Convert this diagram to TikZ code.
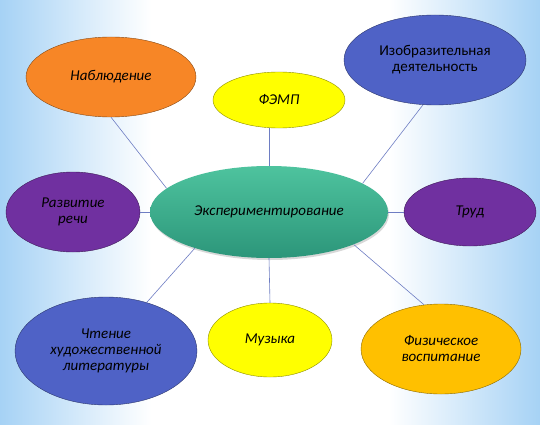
\documentclass[tikz,border=0pt]{standalone}
\usepackage{fontspec}
\setmainfont{Carlito}
\usepackage{tikz}
\usetikzlibrary{shapes.geometric, shadows}

\definecolor{bgblue}{RGB}{166,210,245}
\definecolor{linkblue}{RGB}{110,125,195}
\definecolor{obsorange}{RGB}{247,134,38}
\definecolor{lemon}{RGB}{255,255,0}
\definecolor{ink}{RGB}{79,98,198}
\definecolor{plum}{RGB}{112,48,160}
\definecolor{gold}{RGB}{255,192,0}
\definecolor{tealtop}{RGB}{78,195,158}
\definecolor{tealbot}{RGB}{44,150,122}

\pgfdeclarehorizontalshading{sky}{100bp}{color(0bp)=(bgblue); color(25bp)=(bgblue); color(39bp)=(white); color(61bp)=(white); color(75bp)=(bgblue); color(100bp)=(bgblue)}

\begin{document}
\begin{tikzpicture}[x=1pt, y=-1pt,
    leaf/.style={ellipse, draw=#1!55!black, fill=#1, inner sep=0pt, align=center,
        font=\fontsize{15}{16}\selectfont\itshape},
    link/.style={draw=linkblue, line width=0.6pt}]
    % background
    \shade[shading=sky] (0,0) rectangle (540,425);

    % centre
    \node[ellipse, minimum width=238pt, minimum height=92pt, inner sep=0pt,
        top color=tealtop, bottom color=tealbot,
        drop shadow={opacity=0.3, shadow xshift=1pt, shadow yshift=-2pt},
        font=\fontsize{15}{16}\selectfont\itshape] (exp) at (269,212) {Экспериментирование};

    % satellites
    \node[leaf=obsorange, minimum width=170pt, minimum height=80pt] (obs) at (111,77) {Наблюдение};
    \node[leaf=lemon, minimum width=132pt, minimum height=56pt] (femp) at (279,100) {ФЭМП};
    \node[leaf=ink, minimum width=182pt, minimum height=90pt, font=\fontsize{15}{16}\selectfont] (art) at (435,60) {Изобразительная\\деятельность};
    \node[leaf=plum, minimum width=134pt, minimum height=80pt] (speech) at (73,212) {Развитие\\речи};
    \node[leaf=plum, minimum width=132pt, minimum height=68pt] (work) at (470,212) {Труд};
    \node[leaf=ink, minimum width=182pt, minimum height=108pt] (read) at (106,351) {Чтение\\художественной\\литературы};
    \node[leaf=lemon, minimum width=124pt, minimum height=74pt] (music) at (270,340) {Музыка};
    \node[leaf=gold, minimum width=160pt, minimum height=90pt] (sport) at (441,349) {Физическое\\воспитание};

    % links
    \draw[link] (exp.167) -- (obs.south);
    \draw[link] (exp.north) -- (exp.north |- femp.south);
    \draw[link] (exp.17) -- (art.255);
    \draw[link] (exp.west) -- (speech.east);
    \draw[link] (exp.east) -- (work.west);
    \draw[link] (exp.206) -- (read.50);
    \draw[link] (exp.south) -- (music.north);
    \draw[link] (exp.339) -- (sport.111);
\end{tikzpicture}
\end{document}
